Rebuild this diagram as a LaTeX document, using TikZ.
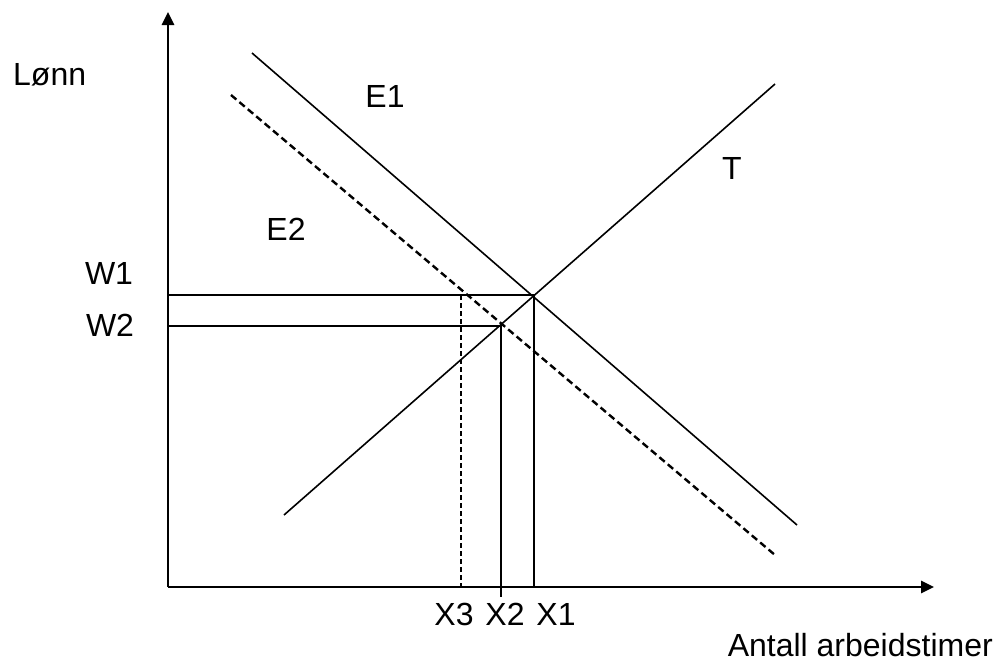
\documentclass[tikz,border=0pt]{standalone}
\usepackage{fontspec}
\setmainfont{Liberation Sans}
\usetikzlibrary{arrows.meta}
\begin{document}
\begin{tikzpicture}[x=1pt,y=-1pt,
  axis/.style={line width=2.8pt,-{Triangle[length=13pt,width=12pt]}},
  curve/.style={line width=1.6pt},
  dcurve/.style={line width=2.4pt,dash pattern=on 7pt off 4pt},
  guide/.style={line width=1.5pt},
  dguide/.style={line width=2.2pt,dash pattern=on 5pt off 3pt},
  lbl/.style={font=\fontsize{32}{38}\selectfont,inner sep=0pt,anchor=base}]
\useasboundingbox (0,0) rectangle (999,662);
% axes
\coordinate (O) at (168,587);
\coordinate (Ytop) at (168,12);
\coordinate (Xend) at (934,587);
\draw[axis] (O) -- (Ytop);
\draw[axis] (O) -- (Xend);
% curves
\coordinate (E1a) at (252,53);
\coordinate (E1b) at (797,525);
\coordinate (E2a) at (231,95);
\coordinate (E2b) at (775,555);
\coordinate (Ta) at (284,515);
\coordinate (Tb) at (775,84);
\draw[curve] (E1a) -- (E1b);
\draw[dcurve] (E2a) -- (E2b);
\draw[curve] (Ta) -- (Tb);
% equilibrium points
\coordinate (P1) at (534,295);
\coordinate (P2) at (501,326);
\coordinate (P3) at (461,295);
\coordinate (W1y) at (168,295);
\coordinate (W2y) at (168,326);
\coordinate (X1x) at (534,587);
\coordinate (X2x) at (501,597);
\coordinate (X3x) at (461,587);
\draw[guide] (W1y) -- (P1) -- (X1x);
\draw[guide] (W2y) -- (P2) -- (X2x);
\draw[dguide] (P3) -- (X3x);
% labels
\node[lbl,anchor=base west] (lonn) at (13,85) {Lønn};
\node[lbl] (e1) at (385,107) {E1};
\node[lbl] (t) at (732,179) {T};
\node[lbl] (e2) at (286,240) {E2};
\node[lbl] (w1) at (109,284) {W1};
\node[lbl] (w2) at (110,336) {W2};
\node[lbl] (x3) at (454,625) {X3};
\node[lbl] (x2) at (505,625) {X2};
\node[lbl] (x1) at (556,625) {X1};
\node[lbl,anchor=base east] (ant) at (993,656) {Antall arbeidstimer};
\end{tikzpicture}
\end{document}
